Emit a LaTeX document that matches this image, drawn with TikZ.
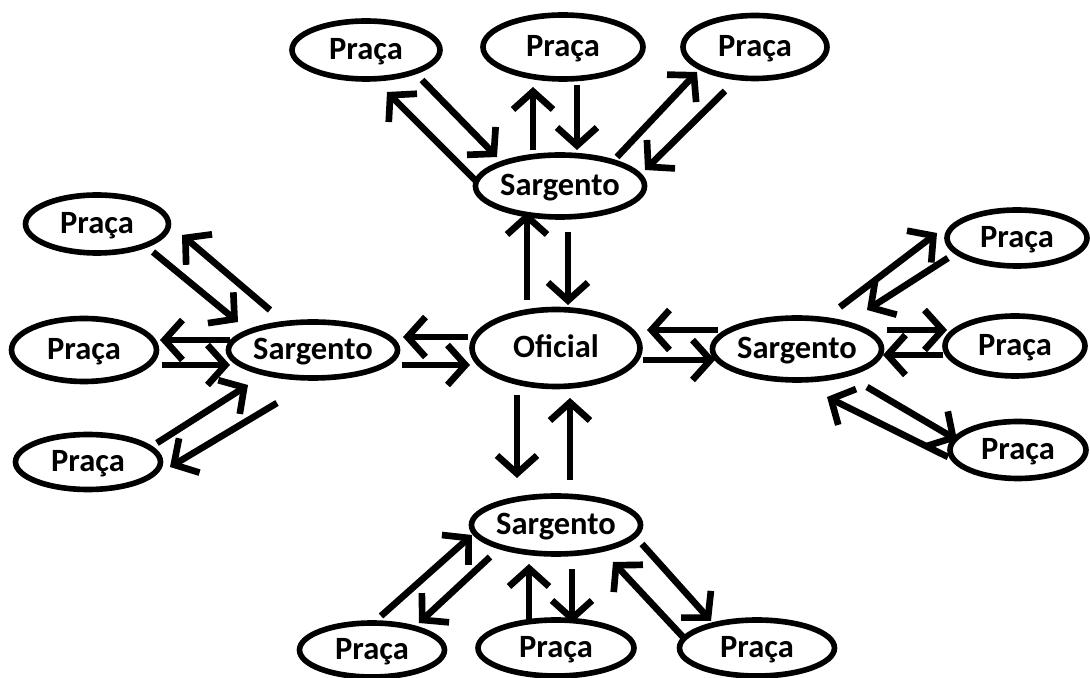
\documentclass[tikz,border=0pt]{standalone}
\usepackage{fontspec}
\setmainfont{Carlito}
\usetikzlibrary{arrows.meta,shapes.geometric}

\tikzset{
  blob/.style={draw, ellipse, line width=3.2pt, inner sep=0pt,
    text height=13.5pt, text depth=3pt,
    font=\fontsize{18.5}{22}\selectfont\bfseries},
  arr/.style={line width=3.8pt, -{Straight Barb[length=0.36cm,width=0.8cm]}}
}

\begin{document}
\begin{tikzpicture}[x=0.02cm, y=-0.02cm]
  \useasboundingbox (0,0) rectangle (1090,678);

  % chain of command
  \node[blob, minimum width=3.36cm, minimum height=1.54cm] (of) at (556,348) {Oficial};

  \node[blob, minimum width=3.04cm, minimum height=1.24cm] (st) at (560,186) {Sargento};
  \node[blob, minimum width=3.2cm, minimum height=1.12cm] (sl) at (313,350) {Sargento};
  \node[blob, minimum width=3.2cm, minimum height=1.24cm] (sr) at (797,349) {Sargento};
  \node[blob, minimum width=3.08cm, minimum height=1.16cm] (sb) at (556,525) {Sargento};

  % top
  \node[blob, minimum width=2.96cm, minimum height=1.16cm] (pt1) at (366,50) {Praça};
  \node[blob, minimum width=3.2cm, minimum height=1.28cm] (pt2) at (563,47) {Praça};
  \node[blob, minimum width=2.88cm, minimum height=1.26cm] (pt3) at (755,47) {Praça};
  % left
  \node[blob, minimum width=2.86cm, minimum height=1.16cm] (pl1) at (97,224) {Praça};
  \node[blob, minimum width=2.9cm, minimum height=1.26cm] (pl2) at (84,350) {Praça};
  \node[blob, minimum width=2.9cm, minimum height=1.1cm] (pl3) at (88,462) {Praça};
  % right
  \node[blob, minimum width=2.8cm, minimum height=1.12cm] (pr1) at (1017,238) {Praça};
  \node[blob, minimum width=2.8cm, minimum height=1.2cm] (pr2) at (1015,346) {Praça};
  \node[blob, minimum width=2.72cm, minimum height=1.14cm] (pr3) at (1018,450) {Praça};
  % bottom
  \node[blob, minimum width=2.9cm, minimum height=1.08cm] (pb1) at (372,650) {Praça};
  \node[blob, minimum width=3.12cm, minimum height=1.12cm] (pb2) at (556,648) {Praça};
  \node[blob, minimum width=3.1cm, minimum height=1.12cm] (pb3) at (757,648) {Praça};

  % top sargento
  \draw[arr] ([shift={(-82,-3)}]st.center) -- ([shift={(21,42)}]pt1.center);
  \draw[arr] ([shift={(56,30)}]pt1.center) -- ([shift={(-63,-29)}]st.center);
  \draw[arr] ([shift={(-27,-36)}]st.center) -- ([shift={(-30,40)}]pt2.center);
  \draw[arr] ([shift={(14,38)}]pt2.center) -- ([shift={(17,-36)}]st.center);
  \draw[arr] ([shift={(57,-29)}]st.center) -- ([shift={(-58,25)}]pt3.center);
  \draw[arr] ([shift={(-30,44)}]pt3.center) -- ([shift={(85,-16)}]st.center);

  % oficial
  \draw[arr] ([shift={(-29,-48)}]of.center) -- ([shift={(-33,26)}]st.center);
  \draw[arr] ([shift={(8,46)}]st.center) -- ([shift={(12,-43)}]of.center);
  \draw[arr] ([shift={(-39,47)}]of.center) -- ([shift={(-39,-47)}]sb.center);
  \draw[arr] ([shift={(14,-45)}]sb.center) -- ([shift={(14,50)}]of.center);
  \draw[arr] ([shift={(-88,-11)}]of.center) -- ([shift={(90,-13)}]sl.center);
  \draw[arr] ([shift={(89,15)}]sl.center) -- ([shift={(-86,17)}]of.center);
  \draw[arr] ([shift={(-79,-19)}]sr.center) -- ([shift={(91,-18)}]of.center);
  \draw[arr] ([shift={(87,12)}]of.center) -- ([shift={(-82,11)}]sr.center);

  % left sargento
  \draw[arr] ([shift={(-43,-40)}]sl.center) -- ([shift={(85,11)}]pl1.center);
  \draw[arr] ([shift={(56,28)}]pl1.center) -- ([shift={(-75,-28)}]sl.center);
  \draw[arr] ([shift={(-83,-10)}]sl.center) -- ([shift={(76,-10)}]pl2.center);
  \draw[arr] ([shift={(78,15)}]pl2.center) -- ([shift={(-83,15)}]sl.center);
  \draw[arr] ([shift={(69,-19)}]pl3.center) -- ([shift={(-65,35)}]sl.center);
  \draw[arr] ([shift={(-36,53)}]sl.center) -- ([shift={(82,5)}]pl3.center);

  % right sargento
  \draw[arr] ([shift={(43,-42)}]sr.center) -- ([shift={(-80,-5)}]pr1.center);
  \draw[arr] ([shift={(-69,20)}]pr1.center) -- ([shift={(70,-39)}]sr.center);
  \draw[arr] ([shift={(90,-19)}]sr.center) -- ([shift={(-68,-16)}]pr2.center);
  \draw[arr] ([shift={(-72,9)}]pr2.center) -- ([shift={(86,6)}]sr.center);
  \draw[arr] ([shift={(-70,7)}]pr3.center) -- ([shift={(30,48)}]sr.center);
  \draw[arr] ([shift={(70,38)}]sr.center) -- ([shift={(-61,-10)}]pr3.center);

  % bottom sargento
  \draw[arr] ([shift={(9,-34)}]pb1.center) -- ([shift={(-84,10)}]sb.center);
  \draw[arr] ([shift={(-66,32)}]sb.center) -- ([shift={(47,-27)}]pb1.center);
  \draw[arr] ([shift={(-27,-25)}]pb2.center) -- ([shift={(-27,39)}]sb.center);
  \draw[arr] ([shift={(16,44)}]sb.center) -- ([shift={(16,-25)}]pb2.center);
  \draw[arr] ([shift={(-74,-11)}]pb3.center) -- ([shift={(57,37)}]sb.center);
  \draw[arr] ([shift={(86,19)}]sb.center) -- ([shift={(-46,-27)}]pb3.center);
\end{tikzpicture}
\end{document}
